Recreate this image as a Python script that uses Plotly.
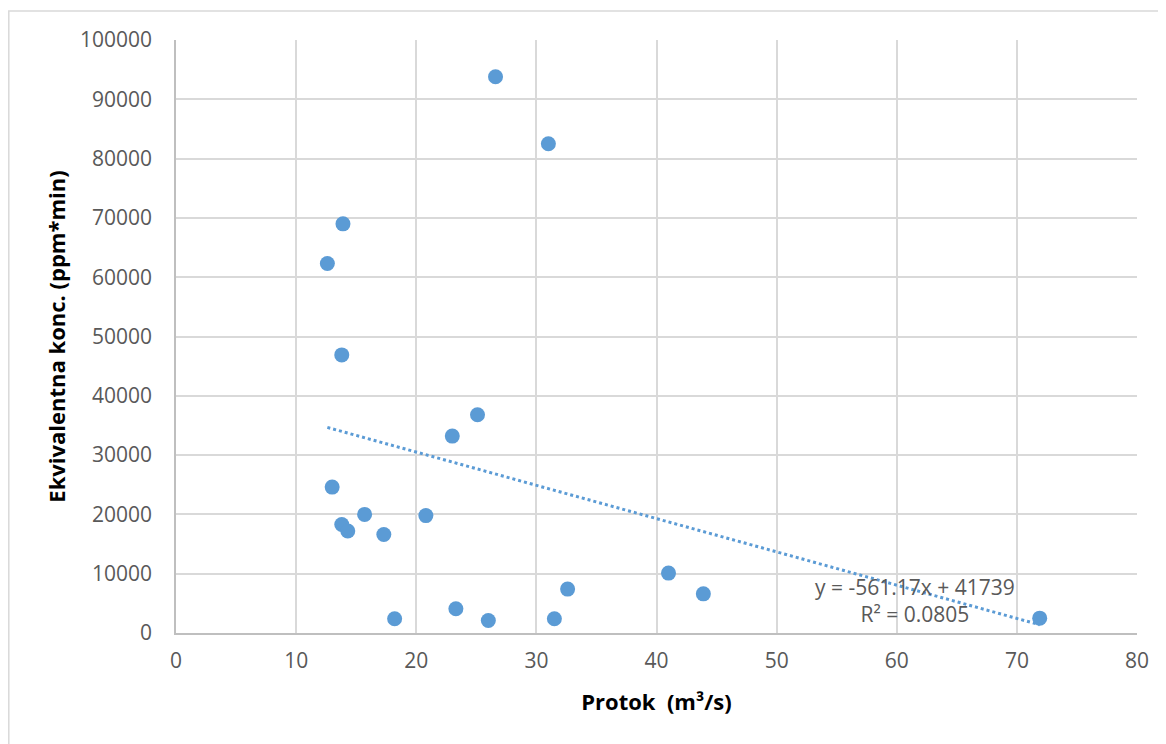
import plotly.graph_objects as go

# Data
protok = [26.6, 31.0, 13.9, 12.6, 13.8, 25.1, 23.0, 13.0, 13.8, 14.3,
          15.7, 17.3, 20.8, 18.2, 23.3, 26.0, 31.5, 32.6, 41.0, 43.9, 71.9]
konc = [93800, 82500, 69000, 62300, 46900, 36800, 33200, 24600, 18300, 17200,
        20000, 16600, 19800, 2400, 4100, 2100, 2400, 7400, 10100, 6600, 2500]

trend_slope = -561.17
trend_intercept = 41739
trend_r2 = 0.0805

x_ticks = [0, 10, 20, 30, 40, 50, 60, 70, 80]
y_ticks = [0, 10000, 20000, 30000, 40000, 50000, 60000, 70000, 80000, 90000, 100000]

blue = '#5B9BD5'
grey_text = '#595959'
font_family = 'Open Sans, Noto Sans, sans-serif'

fig = go.Figure()

# Linear trendline between the smallest and largest flow
x_line = [min(protok), max(protok)]
y_line = [trend_slope * v + trend_intercept for v in x_line]
fig.add_trace(go.Scatter(x=x_line, y=y_line, mode='lines',
                         line=dict(color=blue, width=3, dash='dot'),
                         hoverinfo='skip', showlegend=False))

# Measured points
fig.add_trace(go.Scatter(x=protok, y=konc, mode='markers',
                         marker=dict(color=blue, size=15),
                         showlegend=False))

fig.add_annotation(x=61.5, y=5400, xref='x', yref='y',
                   text=f'y = {trend_slope}x + {trend_intercept}<br>R² = {trend_r2}',
                   showarrow=False, align='center',
                   font=dict(family=font_family, size=21, color=grey_text))

# Outer chart border
fig.add_shape(type='rect', xref='paper', yref='paper',
              x0=-0.174, x1=1.06, y0=-0.25, y1=1.049,
              line=dict(color='#D9D9D9', width=1.5), layer='below')

fig.update_layout(
    width=1166, height=744,
    margin=dict(l=168, r=37, t=32, b=119),
    paper_bgcolor='white', plot_bgcolor='white',
    font=dict(family=font_family, size=21, color=grey_text),
    xaxis=dict(range=[0, 80], tickvals=x_ticks, showgrid=True,
               gridcolor='#D9D9D9', gridwidth=1.5,
               showline=True, linecolor='#BFBFBF', linewidth=1.5,
               ticks='outside', ticklen=8, tickcolor='rgba(0,0,0,0)',
               zeroline=False,
               title=dict(text='Protok  (m³/s)', standoff=22,
                          font=dict(family=font_family, size=22, color='black', weight='bold'))),
    yaxis=dict(range=[0, 100000], tickvals=y_ticks, tickformat='d', showgrid=True,
               gridcolor='#D9D9D9', gridwidth=1.5,
               showline=True, linecolor='#BFBFBF', linewidth=1.5,
               ticks='outside', ticklen=18, tickcolor='rgba(0,0,0,0)',
               zeroline=False,
               title=dict(text='Ekvivalentna konc. (ppm*min)', standoff=8,
                          font=dict(family=font_family, size=22, color='black', weight='bold'))),
)

fig.write_html("out.html")
